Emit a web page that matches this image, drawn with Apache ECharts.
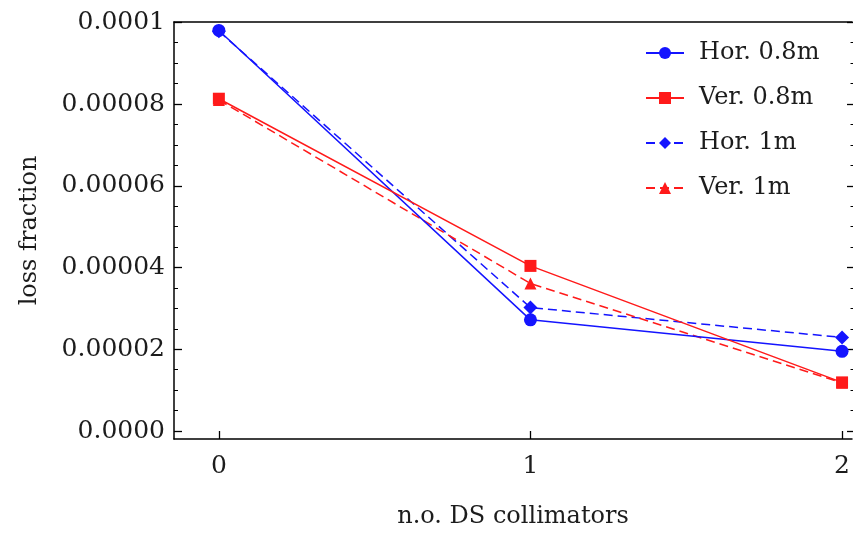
<!DOCTYPE html>
<html>
<head>
<meta charset="utf-8">
<script src="https://cdn.jsdelivr.net/npm/echarts@6/dist/echarts.min.js"></script>
<style>
  html, body { margin: 0; padding: 0; background: #fff; }
  #chart { width: 853px; height: 534px; }
</style>
</head>
<body>
<div id="chart"></div>
<script>
// Number of downstream collimators
const collimators = [0, 1, 2];

// Loss fraction per configuration
const horShort = [9.80e-5, 2.72e-5, 1.95e-5];
const verShort = [8.13e-5, 4.04e-5, 1.19e-5];
const horLong = [9.78e-5, 3.02e-5, 2.29e-5];
const verLong = [8.10e-5, 3.61e-5, 1.18e-5];

const seriesNames = ['Hor. 0.8m', 'Ver. 0.8m', 'Hor. 1m', 'Ver. 1m'];

// Axis ticks
const xTicks = [0, 1, 2];
const xTickLabels = ['0', '1', '2'];
const yTicks = [0, 0.00002, 0.00004, 0.00006, 0.00008, 0.0001];
const yTickLabels = ['0.0000', '0.00002', '0.00004', '0.00006', '0.00008', '0.0001'];
const yMinorTicks = [0.000005, 0.00001, 0.000015, 0.000025, 0.00003, 0.000035,
  0.000045, 0.00005, 0.000055, 0.000065, 0.00007, 0.000075,
  0.000085, 0.00009, 0.000095];

const FONT = 'DejaVu Serif';
const TEXT = '#1c1c1c';
const BLUE = '#1414ff';
const RED = '#ff1a1a';

const xMin = -0.144, xMax = 2.032;
const yMin = -0.00000195, yMax = 0.00010007;

function pairs(vals) {
  return collimators.map((c, i) => [c, vals[i]]);
}

function yLabel(v) {
  const i = yTicks.findIndex(t => Math.abs(t - v) < 1e-9);
  return i >= 0 ? yTickLabels[i] : '';
}
function xLabel(v) {
  const i = xTicks.findIndex(t => Math.abs(t - v) < 1e-9);
  return i >= 0 ? xTickLabels[i] : '';
}

const axisLineStyle = { color: '#000', width: 1.5 };
const majorTick = { color: '#000', width: 1.3 };
const minorTick = { color: '#000', width: 1 };

const chart = echarts.init(document.getElementById('chart'), null, { renderer: 'canvas' });

chart.setOption({
  animation: false,
  backgroundColor: '#fff',
  grid: { left: 174, right: 0, top: 22, bottom: 90, containLabel: false },
  legend: {
    orient: 'vertical',
    left: 640,
    top: 36,
    itemGap: 21,
    itemWidth: 38,
    itemHeight: 15,
    textStyle: { fontFamily: FONT, fontSize: 24, color: TEXT, padding: [0, 0, 0, 10] },
    data: seriesNames
  },
  xAxis: [
    {
      type: 'value', position: 'bottom', min: xMin, max: xMax,
      name: 'n.o. DS collimators', nameLocation: 'middle', nameGap: 66,
      nameTextStyle: { fontFamily: FONT, fontSize: 24, color: TEXT },
      splitLine: { show: false },
      axisLine: { show: true, onZero: false, lineStyle: axisLineStyle },
      axisTick: { show: true, inside: true, length: 8, customValues: xTicks, lineStyle: majorTick },
      axisLabel: { show: true, customValues: xTicks, formatter: xLabel, margin: 15,
        fontFamily: FONT, fontSize: 25, color: TEXT }
    },
    {
      type: 'value', position: 'top', min: xMin, max: xMax,
      splitLine: { show: false },
      axisLine: { show: true, onZero: false, lineStyle: axisLineStyle },
      axisTick: { show: false },
      axisLabel: { show: false }
    }
  ],
  yAxis: [
    {
      type: 'value', position: 'left', min: yMin, max: yMax,
      name: 'loss fraction', nameLocation: 'middle', nameGap: 132, nameRotate: 90,
      nameTextStyle: { fontFamily: FONT, fontSize: 24, color: TEXT },
      splitLine: { show: false },
      axisLine: { show: true, onZero: false, lineStyle: axisLineStyle },
      axisTick: { show: true, inside: true, length: 8, customValues: yTicks, lineStyle: majorTick },
      axisLabel: { show: true, customValues: yTicks, formatter: yLabel, margin: 9,
        padding: [5, 0, 0, 0],
        fontFamily: FONT, fontSize: 25, color: TEXT }
    },
    {
      type: 'value', position: 'left', min: yMin, max: yMax,
      splitLine: { show: false },
      axisLine: { show: false, onZero: false },
      axisTick: { show: true, inside: true, length: 4, customValues: yMinorTicks, lineStyle: minorTick },
      axisLabel: { show: false }
    },
    {
      // right-hand frame edge sits just past the drawing area
      type: 'value', position: 'right', offset: 3, min: yMin, max: yMax,
      splitLine: { show: false },
      axisLine: { show: true, onZero: false, lineStyle: axisLineStyle },
      axisTick: { show: true, inside: true, length: 8, customValues: yTicks, lineStyle: majorTick },
      axisLabel: { show: false }
    },
    {
      type: 'value', position: 'right', offset: 3, min: yMin, max: yMax,
      splitLine: { show: false },
      axisLine: { show: false, onZero: false },
      axisTick: { show: true, inside: true, length: 4.5, customValues: yMinorTicks, lineStyle: minorTick },
      axisLabel: { show: false }
    }
  ],
  series: [
    {
      name: seriesNames[2], type: 'line', data: pairs(horLong),
      symbol: 'diamond', symbolSize: 14,
      lineStyle: { color: BLUE, width: 1.5, type: [9, 5] },
      itemStyle: { color: BLUE }, z: 2
    },
    {
      name: seriesNames[3], type: 'line', data: pairs(verLong),
      symbol: 'triangle', symbolSize: 12,
      lineStyle: { color: RED, width: 1.5, type: [9, 5] },
      itemStyle: { color: RED }, z: 2
    },
    {
      name: seriesNames[0], type: 'line', data: pairs(horShort),
      symbol: 'circle', symbolSize: 13,
      lineStyle: { color: BLUE, width: 1.5 },
      itemStyle: { color: BLUE }, z: 3
    },
    {
      name: seriesNames[1], type: 'line', data: pairs(verShort),
      symbol: 'rect', symbolSize: 12,
      lineStyle: { color: RED, width: 1.5 },
      itemStyle: { color: RED }, z: 3
    }
  ]
});
</script>
</body>
</html>
